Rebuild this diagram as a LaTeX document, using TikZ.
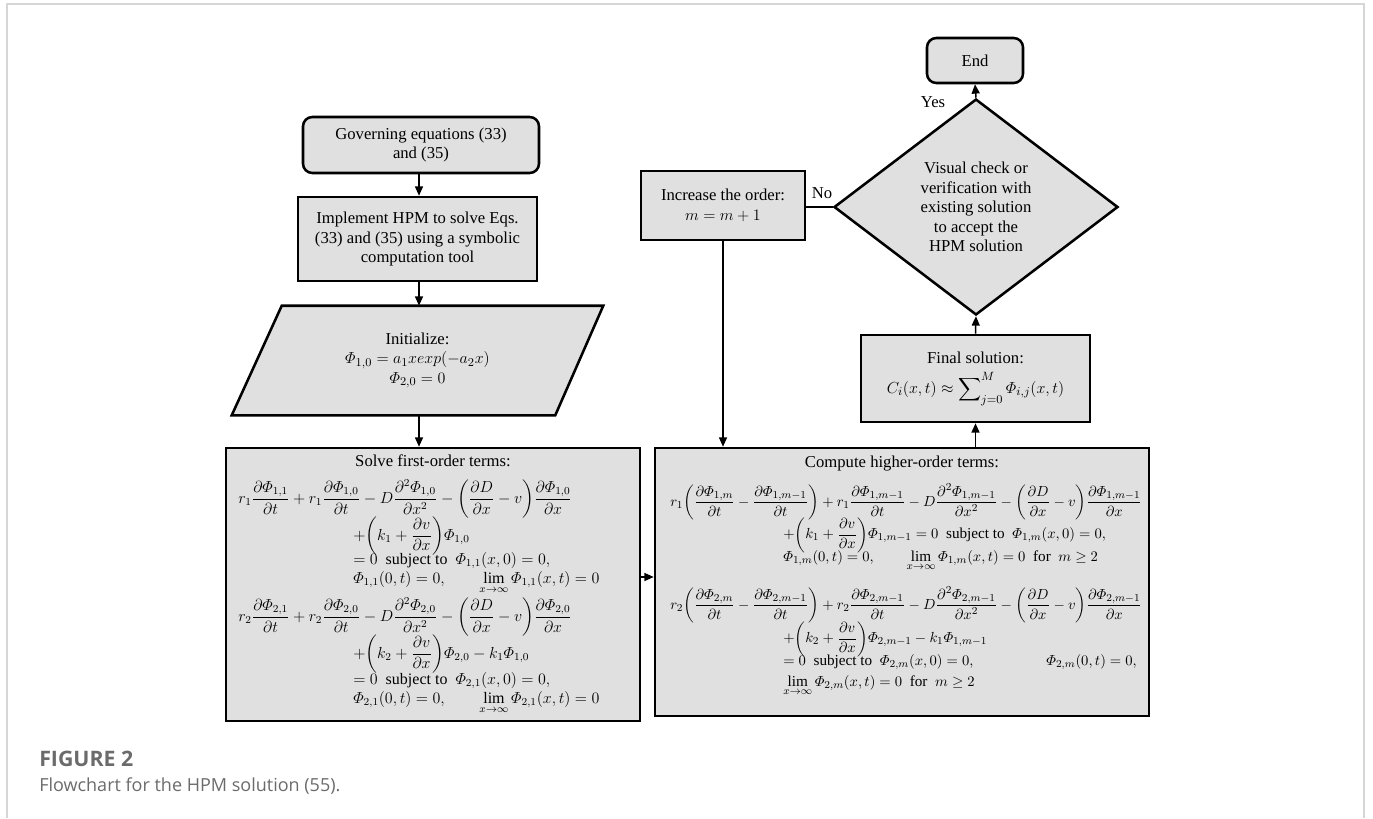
\documentclass[tikz,border=0pt]{standalone}
\usepackage{amsmath}
\usepackage{fontspec}
\setmainfont{Liberation Serif}
\newfontfamily\capfont{Open Sans}
\usetikzlibrary{shapes.geometric,arrows.meta,backgrounds}
\definecolor{boxfill}{HTML}{E0E0E0}
\definecolor{capgray}{HTML}{6B6B6B}
\definecolor{framegray}{HTML}{D6D6D6}
\newcommand{\lp}{\biggl(}
\newcommand{\rp}{\biggr)}
\begin{document}
\begin{tikzpicture}[x=0.75pt,y=-0.75pt,
 box/.style={draw=black, fill=boxfill, line width=1.9pt, inner sep=0pt, align=center, font=\fontsize{12.5}{14.6}\selectfont},
 rbox/.style={box, rounded corners=7pt},
 arr/.style={line width=1.1pt, -{Triangle[length=7pt,width=6pt]}},
 ln/.style={line width=1.1pt},
 eq/.style={inner sep=0pt, font=\fontsize{12}{14}\selectfont},
 eqr/.style={inner sep=0pt, font=\fontsize{11.4}{13.5}\selectfont},
 lbl/.style={inner sep=0pt, font=\fontsize{12.5}{14.6}\selectfont},
 capA/.style={inner sep=0pt, anchor=base west, text=capgray, font=\capfont\bfseries\fontsize{16}{19}\selectfont},
 capB/.style={inner sep=0pt, anchor=base west, text=capgray, font=\capfont\fontsize{13.5}{16}\selectfont},
]
\useasboundingbox (0,0) rectangle (1373,818);
\draw[framegray, line width=0.9pt] (7,818) -- (7,4) -- (1364,4) -- (1364,818);

\coordinate (cx) at (419,0);
\coordinate (midy) at (0,577);

% left column
\node[rbox, minimum width=236*0.75pt, minimum height=56*0.75pt] (gov) at (421,145)
 {Governing equations (33)\\and (35)};
\node[box, minimum width=239*0.75pt, minimum height=84*0.75pt] (impl) at (417.5,239)
 {Implement HPM to solve Eqs.\\(33) and (35) using a symbolic\\computation tool};
\node[lbl, align=center, minimum width=371*0.75pt, minimum height=109*0.75pt] (init) at (417.5,360.5)
 {Initialize:\\$\varPhi_{1,0}=a_1xexp(-a_2x)$\\$\varPhi_{2,0}=0$};
\begin{scope}[on background layer]
\draw[draw=black, fill=boxfill, line width=1.9pt] ([xshift=50*0.75pt]init.north west) -- (init.north east)
 -- ([xshift=-48*0.75pt]init.south east) -- (init.south west) -- cycle;
\end{scope}

\node[box, minimum width=414*0.75pt, minimum height=273*0.75pt] (lbox) at (433,584.5) {};
\node[lbl] (ltitle) at (433,461) {Solve first-order terms:};
\node[eq, anchor=west] (l1) at (238,499) {$\displaystyle r_1\frac{\partial\varPhi_{1,1}}{\partial t}+r_1\frac{\partial\varPhi_{1,0}}{\partial t}-D\frac{\partial^2\varPhi_{1,0}}{\partial x^2}-\lp\frac{\partial D}{\partial x}-v\rp\frac{\partial\varPhi_{1,0}}{\partial x}$};
\node[eq, anchor=west] (l2) at (353,536) {$\displaystyle +\lp k_1+\frac{\partial v}{\partial x}\rp\varPhi_{1,0}$};
\node[eq, anchor=base west] (l3) at (353,564) {$\displaystyle =0\ \ \text{subject to}\ \ \varPhi_{1,1}(x,0)=0,$};
\node[eq, anchor=base west] (l4) at (353,583) {$\displaystyle \varPhi_{1,1}(0,t)=0,\qquad \lim_{x\to\infty}\varPhi_{1,1}(x,t)=0$};
\node[eq, anchor=west] (l5) at (238,617) {$\displaystyle r_2\frac{\partial\varPhi_{2,1}}{\partial t}+r_2\frac{\partial\varPhi_{2,0}}{\partial t}-D\frac{\partial^2\varPhi_{2,0}}{\partial x^2}-\lp\frac{\partial D}{\partial x}-v\rp\frac{\partial\varPhi_{2,0}}{\partial x}$};
\node[eq, anchor=west] (l6) at (353,654) {$\displaystyle +\lp k_2+\frac{\partial v}{\partial x}\rp\varPhi_{2,0}-k_1\varPhi_{1,0}$};
\node[eq, anchor=base west] (l7) at (353,684) {$\displaystyle =0\ \ \text{subject to}\ \ \varPhi_{2,1}(x,0)=0,$};
\node[eq, anchor=base west] (l8) at (353,703) {$\displaystyle \varPhi_{2,1}(0,t)=0,\qquad \lim_{x\to\infty}\varPhi_{2,1}(x,t)=0$};

% right column
\node[box, minimum width=494*0.75pt, minimum height=268*0.75pt] (rbox) at (902,582) {};
\node[lbl] (rtitle) at (902,464) {Compute higher-order terms:};
\node[eqr, anchor=west] (r1) at (670,502) {$\displaystyle r_1\lp\frac{\partial\varPhi_{1,m}}{\partial t}-\frac{\partial\varPhi_{1,m-1}}{\partial t}\rp+r_1\frac{\partial\varPhi_{1,m-1}}{\partial t}-D\frac{\partial^2\varPhi_{1,m-1}}{\partial x^2}-\lp\frac{\partial D}{\partial x}-v\rp\frac{\partial\varPhi_{1,m-1}}{\partial x}$};
\node[eqr, anchor=west] (r2) at (783,535) {$\displaystyle +\lp k_1+\frac{\partial v}{\partial x}\rp\varPhi_{1,m-1}=0\ \ \text{subject to}\ \ \varPhi_{1,m}(x,0)=0,$};
\node[eqr, anchor=base west] (r3) at (783,561) {$\displaystyle \varPhi_{1,m}(0,t)=0,\qquad \lim_{x\to\infty}\varPhi_{1,m}(x,t)=0\ \ \text{for}\ \ m\geq 2$};
\node[eqr, anchor=west] (r4) at (670,605) {$\displaystyle r_2\lp\frac{\partial\varPhi_{2,m}}{\partial t}-\frac{\partial\varPhi_{2,m-1}}{\partial t}\rp+r_2\frac{\partial\varPhi_{2,m-1}}{\partial t}-D\frac{\partial^2\varPhi_{2,m-1}}{\partial x^2}-\lp\frac{\partial D}{\partial x}-v\rp\frac{\partial\varPhi_{2,m-1}}{\partial x}$};
\node[eqr, anchor=west] (r5) at (783,639) {$\displaystyle +\lp k_2+\frac{\partial v}{\partial x}\rp\varPhi_{2,m-1}-k_1\varPhi_{1,m-1}$};
\node[eqr, anchor=base west] (r6) at (783,665) {$\displaystyle =0\ \ \text{subject to}\ \ \varPhi_{2,m}(x,0)=0,$};
\node[eqr, anchor=base west] (r6b) at (1046,665) {$\displaystyle \varPhi_{2,m}(0,t)=0,$};
\node[eqr, anchor=base west] (r7) at (783,686) {$\displaystyle \lim_{x\to\infty}\varPhi_{2,m}(x,t)=0\ \ \text{for}\ \ m\geq 2$};

\node[box, minimum width=229*0.75pt, minimum height=87*0.75pt] (final) at (975.5,378.5)
 {Final solution:\\[6pt]$C_i(x,t)\approx\displaystyle\sum\nolimits_{j=0}^{M}\varPhi_{i,j}(x,t)$};
\node[box, minimum width=164*0.75pt, minimum height=69*0.75pt] (inc) at (723,205.5)
 {Increase the order:\\$m=m+1$};
\node[box, diamond, aspect=1.3, minimum width=284*0.75pt, minimum height=216*0.75pt] (dec) at (976,207)
 {Visual check or\\verification with\\existing solution\\to accept the\\HPM solution};
\node[rbox, minimum width=96*0.75pt, minimum height=45*0.75pt] (end) at (975,60.5) {End};

\node[lbl] (yes) at (933,102) {Yes};
\node[lbl] (no) at (822,193) {No};

% connectors
\draw[arr] (gov.south -| cx) -- (impl.north -| cx);
\draw[arr] (impl.south -| cx) -- (init.north -| cx);
\draw[arr] (init.south -| cx) -- (lbox.north -| cx);
\draw[arr] (lbox.east |- midy) -- (rbox.west |- midy);
\draw[arr] (inc.south) -- (inc.south |- rbox.north);
\draw[arr] (final.south |- rbox.north) -- (final.south);
\draw[arr] (final.north) -- (dec.south);
\draw[arr] (dec.north) -- (end.south);
\draw[ln] (dec.west) -- (dec.west -| inc.east);

% caption
\node[capA] (cap1) at (39,766) {FIGURE 2};
\node[capB] (cap2) at (39,791) {Flowchart for the HPM solution (55).};
\end{tikzpicture}
\end{document}
